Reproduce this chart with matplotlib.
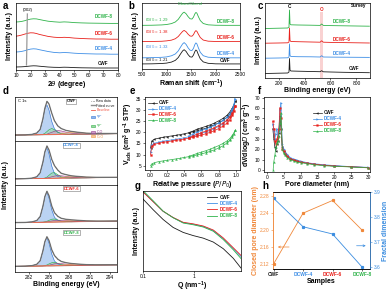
import numpy as np
import matplotlib
matplotlib.use("Agg")
import matplotlib.pyplot as plt
from matplotlib.lines import Line2D
from matplotlib.patches import Patch

plt.rcParams.update({
    'font.family': ['Liberation Sans', 'DejaVu Sans'], 'font.size': 3.5,
    'axes.linewidth': 0.5, 'xtick.major.width': 0.4, 'ytick.major.width': 0.4,
    'xtick.major.size': 1.5, 'ytick.major.size': 1.5,
    'xtick.major.pad': 1.0, 'ytick.major.pad': 1.0,
    'mathtext.default': 'regular',
})

K = '#1a1a1a'; B = '#3f8fe6'; R = '#e8211c'; G = '#2fb34a'; OR = '#f0883a'
names = ["CWF", "DCWF-4", "DCWF-6", "DCWF-8"]
cols = [K, B, R, G]
LAB = dict(fontsize=5, fontweight='bold')

# ---- a: XRD ----
a_x = [10, 12, 14, 16, 18, 20, 22, 24, 26, 29, 32, 36, 40, 43, 46, 50, 55, 60, 65, 70, 75, 80]
a_cwf = [3.0, 3.1, 3.2, 3.4, 3.7, 4.0, 4.2, 4.1, 3.8, 3.4, 3.0, 2.7, 2.6, 2.8, 2.7, 2.4, 2.2, 2.1, 2.0, 2.0, 2.0, 2.0]
a_d4 = [18.0, 18.2, 18.6, 19.3, 20.2, 20.9, 21.2, 21.0, 20.3, 19.4, 18.5, 17.6, 17.2, 17.5, 17.3, 16.8, 16.4, 16.2, 16.0, 16.0, 15.8, 15.8]
a_d6 = [33.8, 34.3, 35.0, 35.9, 36.7, 37.2, 37.1, 36.5, 35.6, 34.6, 33.6, 32.8, 32.4, 32.7, 32.5, 31.9, 31.5, 31.2, 31.0, 31.0, 30.8, 30.8]
a_d8 = [48.0, 48.2, 48.6, 49.3, 50.2, 50.9, 51.2, 51.1, 50.5, 49.6, 48.8, 48.2, 47.8, 48.1, 47.9, 47.4, 47.1, 46.9, 46.8, 46.7, 46.6, 46.6]

# ---- b: Raman ----
b_x = [500, 700, 900, 1000, 1100, 1180, 1240, 1290, 1330, 1360, 1400, 1440, 1480, 1520, 1550,
       1580, 1600, 1620, 1650, 1690, 1750, 1850, 2000, 2200, 2500]
b_cwf = [5.0, 5.1, 5.4, 5.8, 6.8, 8.5, 11.3, 15.1, 17.9, 19.0, 17.3, 14.2, 12.0, 11.7, 13.7,
         17.3, 18.7, 17.9, 14.2, 10.0, 7.0, 5.6, 5.1, 5.0, 5.0]
b_d4 = [11.0, 11.2, 11.5, 11.9, 13.0, 14.8, 17.8, 21.8, 24.8, 26.0, 24.2, 20.9, 18.5, 18.2, 20.3,
        24.2, 25.7, 24.8, 20.9, 16.4, 13.1, 11.6, 11.2, 11.0, 11.0]
b_d6 = [27.0, 27.1, 27.3, 27.7, 28.4, 29.8, 32.0, 34.9, 37.1, 38.0, 36.7, 34.3, 32.5, 32.3, 33.8,
        36.7, 37.8, 37.1, 34.3, 31.0, 28.5, 27.4, 27.1, 27.0, 27.0]
b_d8 = [43.0, 43.1, 43.4, 43.8, 44.7, 46.3, 48.9, 52.4, 55.0, 56.0, 54.4, 51.6, 49.5, 49.2, 51.1,
        54.4, 55.7, 55.0, 51.6, 47.7, 44.8, 43.5, 43.1, 43.0, 43.0]
b_ratio = ["1.21", "1.33", "1.38", "1.29"]

# ---- c: XPS survey ----
c_x = [100, 200, 270, 280, 284, 288, 295, 350, 450, 520, 532, 545, 600, 700, 800, 900]
c_cwf = [4.5, 4.8, 5.0, 6.0, 19.5, 8.0, 7.0, 6.8, 6.5, 6.3, 7.3, 6.2, 6.0, 5.7, 5.5, 5.3]
c_d4 = [19.8, 20.0, 20.2, 21.0, 34.0, 22.5, 21.5, 21.3, 21.2, 21.0, 22.3, 21.0, 20.9, 20.8, 20.7, 20.6]
c_d6 = [34.8, 35.0, 35.2, 36.0, 50.0, 37.5, 36.5, 36.3, 36.0, 35.8, 37.2, 35.8, 35.6, 35.4, 35.2, 35.0]
c_d8 = [49.5, 49.8, 50.0, 51.0, 68.0, 54.0, 53.2, 53.0, 52.8, 52.6, 54.0, 52.6, 52.4, 52.2, 52.0, 51.8]

# ---- d: C 1s fits ----
d_x = [280, 281.5, 282.5, 283.2, 283.7, 284.1, 284.4, 284.7, 285.0, 285.4, 285.8, 286.3, 286.8,
       287.5, 288.3, 289.2, 290.5, 292, 295]
d_base = [0.13, 0.133, 0.135, 0.136, 0.137, 0.138, 0.139, 0.14, 0.14, 0.141, 0.142, 0.143, 0.144,
          0.146, 0.148, 0.15, 0.153, 0.156, 0.162]
d_sp2 = [
    [0, 0, 0.01, 0.04, 0.12, 0.35, 0.58, 0.68, 0.56, 0.30, 0.13, 0.05, 0.02, 0.005, 0, 0, 0, 0, 0],
    [0, 0, 0.01, 0.04, 0.13, 0.37, 0.60, 0.70, 0.56, 0.28, 0.11, 0.04, 0.015, 0.004, 0, 0, 0, 0, 0],
    [0, 0, 0.01, 0.04, 0.13, 0.36, 0.58, 0.68, 0.55, 0.28, 0.11, 0.04, 0.015, 0.004, 0, 0, 0, 0, 0],
    [0, 0, 0.01, 0.04, 0.12, 0.34, 0.55, 0.64, 0.52, 0.27, 0.11, 0.04, 0.015, 0.004, 0, 0, 0, 0, 0]]
d_sp3 = [
    [0, 0, 0, 0, 0, 0.01, 0.03, 0.07, 0.11, 0.14, 0.11, 0.05, 0.02, 0.005, 0, 0, 0, 0, 0],
    [0, 0, 0, 0, 0, 0, 0.01, 0.03, 0.07, 0.12, 0.13, 0.08, 0.03, 0.01, 0, 0, 0, 0, 0],
    [0, 0, 0, 0, 0, 0, 0.01, 0.02, 0.04, 0.065, 0.07, 0.045, 0.02, 0.005, 0, 0, 0, 0, 0],
    [0, 0, 0, 0, 0, 0, 0.01, 0.02, 0.045, 0.07, 0.08, 0.055, 0.025, 0.008, 0, 0, 0, 0, 0]]
d_co = [
    [0, 0, 0, 0, 0, 0, 0, 0.01, 0.03, 0.05, 0.075, 0.09, 0.08, 0.05, 0.025, 0.01, 0, 0, 0],
    [0, 0, 0, 0, 0, 0, 0, 0.01, 0.02, 0.035, 0.05, 0.06, 0.055, 0.04, 0.02, 0.008, 0, 0, 0],
    [0, 0, 0, 0, 0, 0, 0, 0.005, 0.015, 0.025, 0.035, 0.04, 0.038, 0.03, 0.018, 0.008, 0, 0, 0],
    [0, 0, 0, 0, 0, 0, 0, 0.005, 0.015, 0.03, 0.045, 0.05, 0.047, 0.035, 0.02, 0.008, 0, 0, 0]]
d_cdo = [
    [0, 0, 0, 0, 0, 0, 0, 0, 0, 0, 0, 0.005, 0.015, 0.03, 0.04, 0.035, 0.02, 0.01, 0.004],
    [0, 0, 0, 0, 0, 0, 0, 0, 0, 0, 0, 0.005, 0.012, 0.025, 0.03, 0.027, 0.016, 0.008, 0.003],
    [0, 0, 0, 0, 0, 0, 0, 0, 0, 0, 0, 0.004, 0.01, 0.02, 0.026, 0.024, 0.015, 0.008, 0.003],
    [0, 0, 0, 0, 0, 0, 0, 0, 0, 0, 0, 0.004, 0.01, 0.02, 0.026, 0.024, 0.015, 0.008, 0.003]]

# ---- e: N2 isotherms ----
e_p_ads = [0.005, 0.02, 0.05, 0.1, 0.15, 0.2, 0.25, 0.3, 0.35, 0.4, 0.45, 0.5, 0.55, 0.6, 0.65,
           0.7, 0.75, 0.8, 0.85, 0.9, 0.93, 0.96, 0.98, 0.995]
e_p_des = [0.995, 0.96, 0.93, 0.9, 0.85, 0.8, 0.75, 0.7, 0.65, 0.6, 0.55, 0.5, 0.45]
e_ads = [
    [13.0, 16.2, 16.9, 17.4, 17.8, 18.1, 18.4, 18.7, 19.0, 19.4, 19.8, 20.3, 20.8, 21.3, 21.9, 22.6, 23.4, 24.3, 25.4, 26.9, 28.3, 30.3, 32.0, 34.0],
    [11.0, 14.3, 15.1, 15.6, 16.0, 16.3, 16.6, 16.9, 17.2, 17.6, 18.0, 18.5, 19.0, 19.6, 20.2, 20.9, 21.7, 22.7, 23.9, 25.6, 27.2, 29.5, 31.8, 35.0],
    [10.0, 13.8, 14.6, 15.1, 15.5, 15.8, 16.1, 16.4, 16.7, 17.0, 17.4, 17.8, 18.3, 18.8, 19.4, 20.0, 20.8, 21.7, 22.8, 24.3, 25.7, 27.7, 29.5, 31.8],
    [5.0, 5.8, 6.3, 6.8, 7.1, 7.4, 7.7, 8.0, 8.3, 8.7, 9.0, 9.4, 9.8, 10.3, 10.8, 11.4, 12.1, 12.9, 13.9, 15.3, 16.4, 18.0, 19.4, 21.0]]
e_des = [
    [34.0, 31.0, 29.2, 27.8, 26.3, 25.2, 24.2, 23.4, 22.7, 22.1, 21.5, 20.6, 19.9],
    [35.0, 30.5, 28.4, 27.0, 25.4, 24.2, 23.2, 22.3, 21.6, 20.9, 20.2, 19.2, 18.3],
    [31.8, 28.8, 26.9, 25.6, 24.2, 23.1, 22.1, 21.3, 20.6, 19.9, 19.2, 18.4, 17.6],
    [21.0, 18.6, 17.2, 16.2, 15.0, 14.0, 13.2, 12.4, 11.7, 11.1, 10.5, 9.8, 9.2]]
e_mk = ['<', '>', 's', '^']

# ---- f: pore size distribution ----
f_d = [1.8, 2.1, 2.4, 2.7, 3.0, 3.3, 3.6, 3.9, 4.2, 4.6, 5.0, 5.5, 6.0, 7.0, 8.0, 9.0, 10, 12, 14, 17, 20, 25, 30]
f_cwf = [40, 30, 22, 18, 25, 28, 36, 52, 40, 22, 18, 15, 13, 11, 9.5, 8.5, 7.5, 6.5, 5.5, 4.5, 3.8, 3.0, 2.3]
f_d4 = [44, 38, 30, 35, 40, 33, 38, 58, 65, 25, 20, 17, 15, 12, 10.5, 9.5, 8.5, 7, 6, 5, 4.2, 3.2, 2.5]
f_d6 = [47, 40, 28, 25, 30, 32, 40, 60, 50, 20, 18, 15, 13, 11, 9.5, 8.5, 7.5, 6.5, 5.5, 4.5, 3.8, 3.0, 2.3]
f_d8_x = [1.9, 2.1, 2.4, 2.7, 3.0, 3.3, 3.6, 3.9, 4.2, 4.6, 5.0, 5.5, 6.0, 7.0, 8.0, 9.0, 10, 12, 14, 17, 20, 25, 30]
f_d8 = [0, 8, 14, 22, 26, 28, 33, 45, 55, 20, 16, 14, 12, 10, 8.5, 7.5, 7, 6, 5, 4, 3.5, 2.8, 2.0]

# ---- g: SAXS ----
g_q = [0.1, 0.157, 0.246, 0.387, 0.609, 0.955, 1.5, 2.36, 3.7, 5.8, 8.2]
g_i = [
    [3980, 1175, 380, 151, 85, 59, 44, 28, 13, 4.3, 1.4],
    [9300, 3020, 970, 465, 262, 218, 168, 104, 41, 13, 5.3],
    [9000, 2950, 975, 475, 272, 228, 178, 112, 45, 14.5, 6.0],
    [10500, 3300, 1000, 460, 250, 205, 158, 97, 37, 11.5, 4.2]]

# ---- h: closed pores / fractal dimension ----
h_pore = [2.12, 2.24, 2.27, 2.20]
h_frac = [3.875, 3.761, 3.732, 3.60]

W, H = 389, 292
fig = plt.figure(figsize=(W / 100, H / 100), dpi=100)
fig.patch.set_facecolor('white')

def add(x0, y0, x1, y1):
    return fig.add_axes([x0 / W, 1 - y1 / H, (x1 - x0) / W, (y1 - y0) / H])

def letter(x, y, s):
    fig.text(x / W, 1 - y / H, s, fontsize=7, fontweight='bold', va='center', ha='left')

# a
ax = add(16, 3, 118, 70)
for y, c in zip([a_cwf, a_d4, a_d6, a_d8], cols):
    ax.plot(a_x, y, color=c, lw=0.6)
ax.plot([17.8, 17.2], [56, 5], color='#9a9a9a', lw=0.9)
ax.text(17.8, 58.5, "(002)", ha='center', fontsize=3.2)
for n, c, ly in zip(names, cols, [5, 20, 35, 52]):
    ax.text(70, ly, n, color=c, fontsize=3.3, fontweight='bold', ha='center')
ax.set_xlim(10, 80); ax.set_ylim(0, 67); ax.set_yticks([])
ax.set_xticks(range(10, 81, 10))
ax.set_xlabel("2$\\mathit{\\theta}$ (degree)", labelpad=0.5, **LAB)
ax.set_ylabel("Intensity (a.u.)", labelpad=2, **LAB)

# b
ax = add(142, 3, 240, 69)
for y, c in zip([b_cwf, b_d4, b_d6, b_d8], cols):
    ax.plot(b_x, y, color=c, lw=0.6)
for n, c, ly, r, ry in zip(names, cols, [7, 14, 29.7, 45.3], b_ratio, [7, 20, 35, 47]):
    ax.text(2200, ly, n, color=c, fontsize=3.3, fontweight='bold', ha='center')
    ax.text(560, ry, "$\\mathit{I}_D/\\mathit{I}_G$ = " + r, color=c, fontsize=3.2, ha='left')
ax.text(1350, 63, "D-band", color=G, fontsize=2.8, ha='center')
ax.text(1600, 63, "G-band", color=G, fontsize=2.8, ha='center')
ax.set_xlim(500, 2500); ax.set_ylim(0, 65); ax.set_yticks([])
ax.set_xticks(range(500, 2501, 500))
ax.set_xlabel("Raman shift (cm$^{-1}$)", labelpad=0.5, **LAB)
ax.set_ylabel("Intensity (a.u.)", labelpad=2, **LAB)

# c
ax = add(265, 3, 370, 78)
ax.axvspan(520, 545, ymin=0, ymax=0.88, color='#f4a7a7', alpha=0.5, lw=0)
for y, c in zip([c_cwf, c_d4, c_d6, c_d8], cols):
    ax.plot(c_x, y, color=c, lw=0.6)
ax.text(284, 70, "C", ha='center', fontsize=3.3, fontweight='bold')
ax.text(532, 67, "O", ha='center', fontsize=3.3, fontweight='bold', color=R)
ax.text(880, 71, "Survey", ha='right', fontsize=3.3, fontweight='bold')
for n, c, lx, ly in zip(names, cols, [780, 690, 690, 690], [8, 23, 37, 55]):
    ax.text(lx, ly, n, color=c, fontsize=3.3, fontweight='bold', ha='center')
ax.set_xlim(95, 905); ax.set_ylim(0, 75); ax.set_yticks([])
ax.set_xticks([200, 400, 600, 800])
ax.set_xlabel("Binding energy (eV)", labelpad=0.5, **LAB)
ax.set_ylabel("Intensity (a.u.)", labelpad=2, **LAB)

# d
base = np.array(d_base)
hh = (272 - 97) / 4
for i in range(4):
    y0 = 97 + i * hh
    ax = add(15, y0, 117, y0 + hh)
    comps = [(d_sp2[i], '#3a78d6', '#8db6ec'), (d_sp3[i], '#34b04a', '#9ad9a2'),
             (d_co[i], '#9a3f8e', '#cf9ac6'), (d_cdo[i], '#f19a4a', '#f6c79a')]
    total = base.copy()
    for vals, lc, fc in comps:
        v = base + np.array(vals)
        total = total + np.array(vals)
        ax.fill_between(d_x, base, v, color=fc, alpha=0.6, lw=0)
        ax.plot(d_x, v, color=lc, lw=0.45)
    ax.plot(d_x, base, color='#f05a4a', lw=0.5)
    ax.plot(d_x, total, color='#8c8c8c', lw=1.0)
    ax.plot(d_x, total, color=K, lw=0.35, ls=(0, (1, 1)))
    ax.set_xlim(280, 295); ax.set_ylim(0, 1); ax.set_yticks([])
    ax.set_xticks([282, 285, 288, 291, 294])
    ax.text(0.55, 0.9, names[i], transform=ax.transAxes, color=cols[i], fontsize=2.9,
            fontweight='bold', ha='center', va='center',
            bbox=dict(boxstyle='square,pad=0.15', fc='white', ec='#777777', lw=0.4))
    if i == 0:
        ax.text(0.03, 0.9, "C 1s", transform=ax.transAxes, fontsize=3, va='center')
        hnd = [Line2D([], [], color=K, lw=0.4, ls=':'), Line2D([], [], color='#8c8c8c', lw=1.0),
               Line2D([], [], color='#f05a4a', lw=0.6), Patch(fc='#8db6ec', ec='#3a78d6', lw=0.4),
               Patch(fc='#9ad9a2', ec='#34b04a', lw=0.4), Patch(fc='#cf9ac6', ec='#9a3f8e', lw=0.4),
               Patch(fc='#f6c79a', ec='#f19a4a', lw=0.4)]
        lab = ["Raw data", "Fitted curve", "Baseline", "sp$^2$", "sp$^3$", "C-O", "C=O"]
        leg = ax.legend(hnd, lab, loc='upper right', fontsize=2.5, frameon=False, handlelength=1.3,
                        handleheight=0.5, labelspacing=0.12, borderaxespad=0.2, handletextpad=0.4)
        for t, c in zip(leg.get_texts(), [K, K, '#f05a4a', '#3a78d6', '#34b04a', '#9a3f8e', '#f19a4a']):
            t.set_color(c)
    if i < 3:
        ax.tick_params(axis='x', labelbottom=False, length=0)
    else:
        ax.set_xlabel("Binding energy (eV)", labelpad=0.5, **LAB)
fig.text(6 / W, 1 - 185 / H, "Intensity (a.u.)", rotation=90, va='center', ha='center', **LAB)

# e
ax = add(145, 97, 240, 170)
for i in range(4):
    ax.plot(e_p_ads, e_ads[i], color=cols[i], lw=0.5, marker=e_mk[i], ms=1.4, mew=0.2, label=names[i])
    ax.plot(e_p_des, e_des[i], color=cols[i], lw=0.5, marker=e_mk[i], ms=1.4, mew=0.2)
leg = ax.legend(loc='upper left', fontsize=3.3, frameon=False, handlelength=2.0, labelspacing=0.2,
                borderaxespad=0.3, handletextpad=0.4)
for t, c in zip(leg.get_texts(), cols):
    t.set_color(c); t.set_fontweight('bold')
ax.set_xlim(-0.06, 1.05); ax.set_ylim(3, 36)
ax.set_xticks([0, 0.2, 0.4, 0.6, 0.8, 1.0]); ax.set_yticks(range(5, 36, 5))
ax.set_xlabel("Relative pressure ($\\mathit{P/P_0}$)", labelpad=0.5, **LAB)
ax.set_ylabel("V$_{ads}$ (cm$^3$ g$^{-1}$ STP)", labelpad=1, **LAB)

# f
ax = add(264, 97, 370, 172)
for xs, y, c, n, mk in zip([f_d, f_d, f_d, f_d8_x], [f_cwf, f_d4, f_d6, f_d8], cols, names, e_mk):
    ax.plot(xs, y, color=c, lw=0.5, marker=mk, ms=1.3, mew=0.2, label=n)
leg = ax.legend(loc='center left', bbox_to_anchor=(0.42, 0.67), fontsize=3.3, frameon=False,
                handlelength=2.0, labelspacing=0.2, handletextpad=0.4)
for t, c in zip(leg.get_texts(), cols):
    t.set_color(c); t.set_fontweight('bold')
ax.set_xlim(-0.8, 30.5); ax.set_ylim(-2, 70.5)
ax.set_xticks(range(0, 31, 5)); ax.set_yticks(range(0, 71, 10))
ax.set_xlabel("Pore diameter (nm)", labelpad=0.5, **LAB)
ax.set_ylabel("dV/dlog$\\mathit{D}$ (cm$^3$ g$^{-1}$)", labelpad=1, **LAB)

# g
ax = add(143, 191, 241, 271)
for i in range(4):
    ax.plot(g_q, g_i[i], color=cols[i], lw=0.6, label=names[i])
ax.set_xscale('log'); ax.set_yscale('log')
ax.set_xlim(0.1, 8.2); ax.set_ylim(1, 1e4)
ax.set_xticks([0.1, 1]); ax.set_xticklabels(["0.1", "1"])
ax.minorticks_off(); ax.set_yticks([])
leg = ax.legend(loc='upper right', fontsize=3.3, frameon=False, handlelength=2.2, labelspacing=0.25,
                borderaxespad=0.4, handletextpad=0.5)
for t, c in zip(leg.get_texts(), cols):
    t.set_color(c); t.set_fontweight('bold')
ax.set_xlabel("Q (nm$^{-1}$)", labelpad=0, **LAB)
ax.set_ylabel("Intensity (a.u.)", labelpad=2, **LAB)

# h
HB = '#3b8de0'
ax = add(273, 192, 370, 269)
xs = np.arange(4)
ax.plot(xs, h_pore, color=OR, lw=0.6, marker='s', ms=1.3)
ax.set_xlim(-0.02, 3.27); ax.set_ylim(2.108, 2.29)
ax.set_yticks([2.12, 2.16, 2.20, 2.24, 2.28])
ax.set_xticks(xs); ax.set_xticklabels(names, fontweight='bold')
for t, c in zip(ax.get_xticklabels(), cols):
    t.set_color(c)
ax.tick_params(axis='y', colors=OR)
ax.spines['left'].set_color(OR)
ax.set_ylabel("Closed pore diameter (nm)", color=OR, labelpad=1, **LAB)
ax.set_xlabel("Samples", labelpad=0.5, **LAB)
ax.annotate('', xy=(0.05, 2.16), xytext=(0.62, 2.16),
            arrowprops=dict(arrowstyle='->', color=OR, lw=0.5))
ax2 = ax.twinx()
ax2.plot(xs, h_frac, color=HB, lw=0.6, marker='s', ms=1.3)
ax2.set_ylim(3.592, 3.9); ax2.set_yticks([3.6, 3.7, 3.8, 3.9])
ax2.tick_params(axis='y', colors=HB)
ax2.spines['right'].set_color(HB); ax2.spines['left'].set_color(OR)
ax2.set_ylabel("Fractal dimension", color=HB, labelpad=1, **LAB)
ax2.annotate('', xy=(3.22, 3.685), xytext=(2.72, 3.685),
             arrowprops=dict(arrowstyle='->', color=HB, lw=0.5))

for s, x, y in [('a', 3, 6), ('b', 128, 6), ('c', 258, 6), ('d', 3, 91), ('e', 130, 91),
                ('f', 258, 91), ('g', 135, 186), ('h', 262, 186)]:
    letter(x, y, s)

fig.savefig("out.png", dpi=100, facecolor='white')
